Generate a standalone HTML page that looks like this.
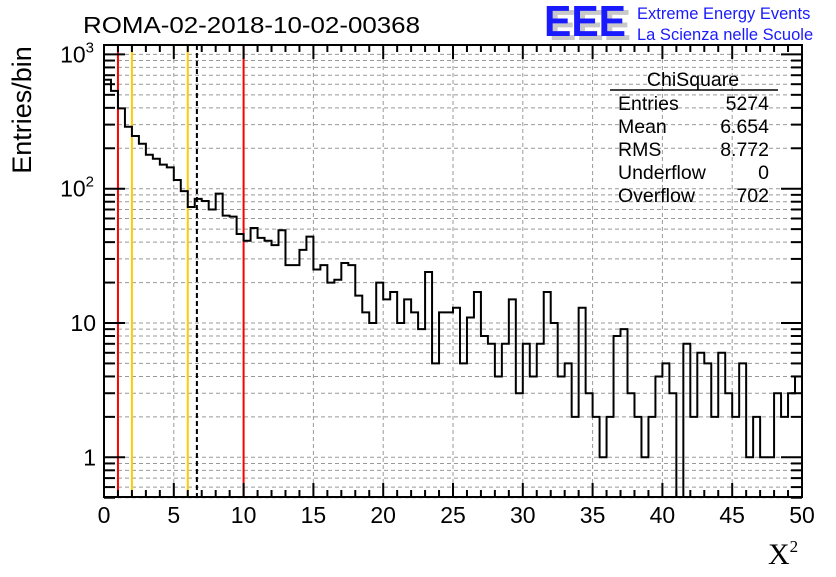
<!DOCTYPE html>
<html><head><meta charset="utf-8"><style>
body{margin:0;background:#fff;}
svg text{font-family:"Liberation Sans",sans-serif;}
</style></head><body>
<svg width="836" height="572" viewBox="0 0 836 572" xmlns="http://www.w3.org/2000/svg">
<g id="grid"></g>
<g id="lines"></g>
<path id="hist" fill="none" stroke="#000" stroke-width="2"/>
<g id="axes"></g>
<rect x="104" y="45" width="698" height="452" fill="none" stroke="#000" stroke-width="2"/>
<text x="83" y="33" font-size="23" textLength="337" lengthAdjust="spacingAndGlyphs">ROMA-02-2018-10-02-00368</text>
<g>
<text x="549" y="40" font-size="44" font-weight="bold" fill="#c8c8c8" textLength="82" lengthAdjust="spacingAndGlyphs">EEE</text>
<text x="544" y="36" font-size="44" font-weight="bold" fill="#1a1aff" textLength="82" lengthAdjust="spacingAndGlyphs">EEE</text>
<text x="637" y="19" font-size="16.5" fill="#1a1aff">Extreme Energy Events</text>
<text x="637" y="40" font-size="16.5" fill="#1a1aff">La Scienza nelle Scuole</text>
</g>
<g font-size="19.5">
<text x="693" y="86" text-anchor="middle">ChiSquare</text>
<line x1="610" y1="90" x2="778" y2="90" stroke="#000" stroke-width="1.5"/>
<text x="618" y="110">Entries</text><text x="769" y="110" text-anchor="end">5274</text>
<text x="618" y="133">Mean</text><text x="769" y="133" text-anchor="end">6.654</text>
<text x="618" y="156">RMS</text><text x="769" y="156" text-anchor="end">8.772</text>
<text x="618" y="179">Underflow</text><text x="769" y="179" text-anchor="end">0</text>
<text x="618" y="202">Overflow</text><text x="769" y="202" text-anchor="end">702</text>
</g>
<text transform="translate(31,110) rotate(-90)" text-anchor="middle" font-size="27">Entries/bin</text>
<text x="768" y="564" font-size="30" style="font-family:'Liberation Serif',serif">X<tspan font-size="17" dy="-12">2</tspan></text>
</svg>
<script>
const counts=[647,535,396,289,247,216,179,167,151,144,116,96,73,84,81,70,92,63,62,46,41,51,43,41,38,49,27,27,35,44,25,27,20,21,28,27,16,12,10,20,15,17,10,15,12,9,24,5,12,12,13,5,11,17,8,7,4,7,15,3,7,4,7,17,10,4,5,2,13,3,2,1,2,8,9,3,2,1,2,4,5,3,0,7,2,6,5,2,6,3,2,5,1,2,1,1,3,2,3,4];
const xTicks=[0,5,10,15,20,25,30,35,40,45,50];
const yMajor=[1,10,100,1000];
const yLabels=["1","10","10²","10³"];
const refLines=[{v:1,c:"#ff0000",d:""},{v:10,c:"#ff0000",d:""},{v:2,c:"#ffcc00",d:""},{v:6,c:"#ffcc00",d:""},{v:6.654,c:"#000",d:"5,3"}];
const binW=0.5;
const X0=104,X1=802,YT=45,YB=497;
const xs=v=>X0+(v/50)*(X1-X0);
const ys=v=>457.3-134.3*Math.log10(v);
const NS="http://www.w3.org/2000/svg";
function mk(tag,attrs,parent){const e=document.createElementNS(NS,tag);for(const k in attrs)e.setAttribute(k,attrs[k]);parent.appendChild(e);return e;}
const grid=document.getElementById('grid'),axes=document.getElementById('axes'),lines=document.getElementById('lines');
for(const t of xTicks){if(t===0||t===50)continue;const l=mk('line',{x1:xs(t),x2:xs(t),y1:YT,y2:YB,stroke:'#999','stroke-dasharray':'4,3','stroke-width':1},grid);

}
for(let d=0.1;d<=1000;d*=10){for(let m=1;m<=9;m++){const v=Math.round(d*m*10)/10;if(v<0.5||ys(v)<YT+1)continue;const y=ys(v);
const l=mk('line',{x1:X0,x2:X1,y1:y,y2:y,stroke:'#999','stroke-dasharray':'4,3','stroke-width':1},grid);


const isMaj=(m===1);
const t1=mk('line',{x1:X0,x2:X0+(isMaj?21:11),y1:y,y2:y,stroke:'#000','stroke-width':2},axes);


const t2=mk('line',{x1:X1,x2:X1-(isMaj?21:11),y1:y,y2:y,stroke:'#000','stroke-width':2},axes);

}}
for(let v=0;v<=50;v+=1){const maj=v%5===0;const x=xs(v);
const a=mk('line',{x1:x,x2:x,y1:YB,y2:YB-(maj?14:7),stroke:'#000','stroke-width':2},axes);


const b=mk('line',{x1:x,x2:x,y1:YT,y2:YT+(maj?14:7),stroke:'#000','stroke-width':2},axes);

}
for(const t of xTicks){const tx=mk('text',{x:xs(t),y:523,'text-anchor':'middle','font-size':23},axes);tx.textContent=t;

}
yMajor.forEach((v,i)=>{const lab=yLabels[i];const t=mk('text',{x:96,y:ys(v)+8,'text-anchor':'end','font-size':23},axes);
if(lab.length>2&&lab.startsWith('10')){t.textContent='10';const sp=mk('tspan',{'font-size':15,dy:-10},t);sp.textContent=lab==='10²'?'2':'3';t.setAttribute('x',94);}else t.textContent=lab;

});
for(const r of refLines){const l=mk('line',{x1:xs(r.v),x2:xs(r.v),y1:YT,y2:YB,stroke:r.c,'stroke-width':2},lines);if(r.d)l.setAttribute('stroke-dasharray',r.d);

}
let d='';const yb=YB;
counts.forEach((c,i)=>{const xa=xs(i*binW),xb=xs((i+1)*binW);const y=c>0?Math.max(ys(c),YT):yb;
d+=(i===0?`M${xa},${y}`:`L${xa},${y}`)+`L${xb},${y}`;});
document.getElementById('hist').setAttribute('d',d);
</script>
</body></html>
